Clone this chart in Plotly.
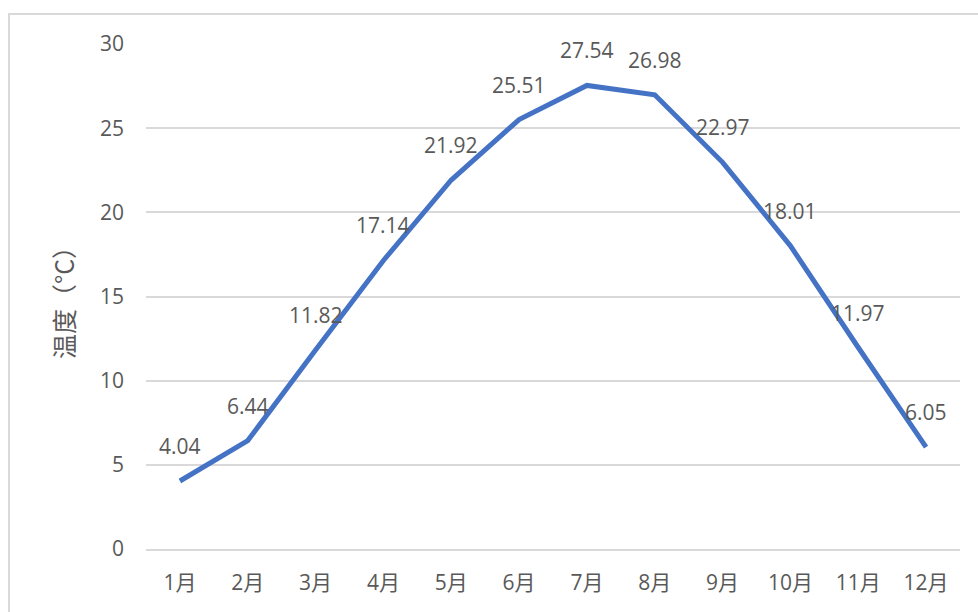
import plotly.graph_objects as go

months = ["1月", "2月", "3月", "4月", "5月", "6月", "7月", "8月", "9月", "10月", "11月", "12月"]
temps = [4.04, 6.44, 11.82, 17.14, 21.92, 25.51, 27.54, 26.98, 22.97, 18.01, 11.97, 6.05]
y_ticks = [0, 5, 10, 15, 20, 25, 30]

FONT = "Open Sans, Noto Sans CJK SC"
TEXT_COLOR = "#595959"
GRID = "#d9d9d9"
FS = 21

fig = go.Figure()
fig.add_trace(go.Scatter(
    x=months, y=temps, mode="lines",
    line=dict(color="#4472C4", width=5),
    hoverinfo="x+y",
))

# value labels above each point
for m, v in zip(months, temps):
    fig.add_annotation(
        x=m, y=v, text=f"{v:.2f}", showarrow=False,
        yshift=35, yanchor="middle", xanchor="center",
        font=dict(family=FONT, size=FS, color=TEXT_COLOR),
    )

W, H = 978, 612
L, R, T, B = 146, 18, 44, 63
pw, ph = W - L - R, H - T - B

# outer chart frame
fig.add_shape(
    type="rect", xref="paper", yref="paper",
    x0=(9 - L) / pw, x1=(W + 20 - L) / pw,
    y0=-(B + 20) / ph, y1=1 + (T - 14) / ph,
    line=dict(color="#d9d9d9", width=2), layer="below",
)

fig.update_layout(
    width=W, height=H,
    margin=dict(l=L, r=R, t=T, b=B),
    paper_bgcolor="white", plot_bgcolor="white",
    showlegend=False,
    font=dict(family=FONT, size=FS, color=TEXT_COLOR),
    xaxis=dict(
        type="category", range=[-0.5, len(months) - 0.5],
        showgrid=False, showline=True,
        linecolor=GRID, linewidth=1.5, ticks="",
        ticklabelstandoff=14, tickfont=dict(size=FS, color=TEXT_COLOR),
    ),
    yaxis=dict(
        range=[0, 30], tickvals=y_ticks, showgrid=True,
        gridcolor=GRID, gridwidth=1.5, zeroline=False, showline=False,
        ticks="", ticklabelstandoff=21,
        tickfont=dict(size=FS, color=TEXT_COLOR),
        title=dict(text="温度（°C）", standoff=18,
                   font=dict(family="Noto Sans CJK SC", size=25, color=TEXT_COLOR)),
    ),
)

fig.write_html("out.html")
